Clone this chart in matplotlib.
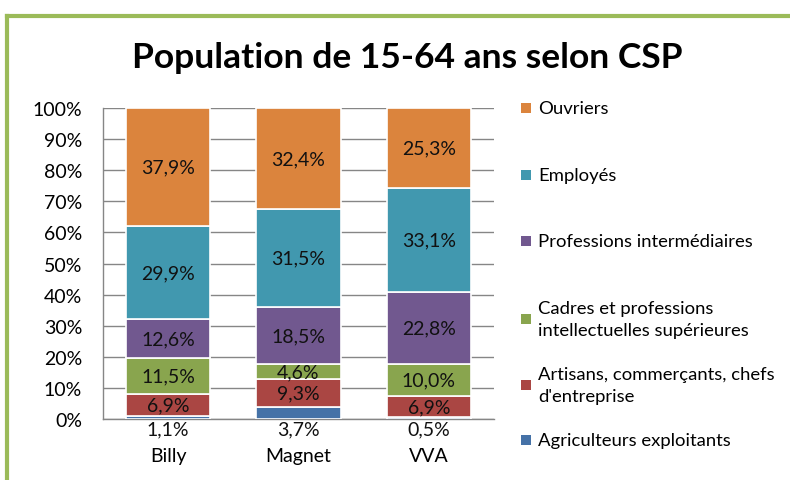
#!/usr/bin/env python3
"""Population de 15-64 ans selon CSP: 100% stacked bars per commune."""
import matplotlib
matplotlib.use("Agg")
import matplotlib.pyplot as plt
from matplotlib.patches import Rectangle
import numpy as np

communes = ["Billy", "Magnet", "VVA"]
categories = [
    "Agriculteurs exploitants",
    "Artisans, commerçants, chefs\nd'entreprise",
    "Cadres et professions\nintellectuelles supérieures",
    "Professions intermédiaires",
    "Employés",
    "Ouvriers",
]
agriculteurs = [1.1, 3.7, 0.5]
artisans = [6.9, 9.3, 6.9]
cadres = [11.5, 4.6, 10.0]
prof_inter = [12.6, 18.5, 22.8]
employes = [29.9, 31.5, 33.1]
ouvriers = [37.9, 32.4, 25.3]
yticks = [0, 10, 20, 30, 40, 50, 60, 70, 80, 90, 100]

colors = ["#4572A7", "#AA4643", "#89A54E", "#71588F", "#4198AF", "#DB843D"]

plt.rcParams["font.family"] = ["Lato", "DejaVu Sans"]

W, H = 790, 481
fig = plt.figure(figsize=(W / 100, H / 100), dpi=100)
ax = fig.add_axes([103 / W, 1 - 420 / H, 391 / W, 311 / H])

series = np.array([agriculteurs, artisans, cadres, prof_inter, employes, ouvriers])
share = series / series.sum(axis=0) * 100  # 100% stacked
x = np.arange(len(communes))
bottom = np.zeros(len(communes))
for i, (vals, raw) in enumerate(zip(share, series)):
    ax.bar(x, vals, width=0.645, bottom=bottom, color=colors[i],
           edgecolor="white", linewidth=1.2, zorder=3)
    for j in range(len(communes)):
        label = f"{raw[j]:.1f}%".replace(".", ",")
        if i == 0:
            # smallest segment: label sits under the axis
            ax.text(x[j], -3.2, label, ha="center", va="center",
                    fontsize=14, color="#111111", clip_on=False, zorder=5)
        else:
            ax.text(x[j], bottom[j] + vals[j] / 2, label, ha="center",
                    va="center", fontsize=14, color="#111111", zorder=5)
    bottom += vals

ax.set_xlim(-0.5, 2.5)
ax.set_ylim(0, 100)
ax.set_yticks(yticks)
ax.set_yticklabels([f"{t}%" for t in yticks], fontsize=14)
ax.set_xticks(x)
ax.set_xticklabels(communes, fontsize=14)
ax.tick_params(axis="y", length=0, pad=15)
ax.tick_params(axis="x", length=0, pad=20)
ax.yaxis.grid(True, color="#868686", linewidth=1.0, zorder=0)
ax.set_axisbelow(True)
for side in ["top", "right"]:
    ax.spines[side].set_visible(False)
for side in ["left", "bottom"]:
    ax.spines[side].set_color("#868686")
    ax.spines[side].set_linewidth(1.0)

fig.text(407 / W, 1 - 58 / H, "Population de 15-64 ans selon CSP",
         ha="center", va="center", fontsize=25.5, fontweight="bold")

# legend, top entry first
legend_y = [441, 386, 320, 242, 176, 109]
for i, cy in enumerate(legend_y):
    fig.patches.append(Rectangle((521 / W, 1 - (cy + 5) / H), 10 / W, 10 / H,
                                 transform=fig.transFigure,
                                 facecolor=colors[i], edgecolor="none"))
    fig.text(538 / W, 1 - cy / H, categories[i], ha="left", va="center",
             fontsize=13.3, linespacing=1.45)

# green frame on top and left
fig.add_artist(plt.Line2D([7 / W, 1], [1 - 16.5 / H, 1 - 16.5 / H],
                          transform=fig.transFigure, color="#9BBB59", linewidth=3))
fig.add_artist(plt.Line2D([7 / W, 7 / W], [0, 1 - 16.5 / H],
                          transform=fig.transFigure, color="#9BBB59", linewidth=3))

fig.savefig("out.png", dpi=100)
